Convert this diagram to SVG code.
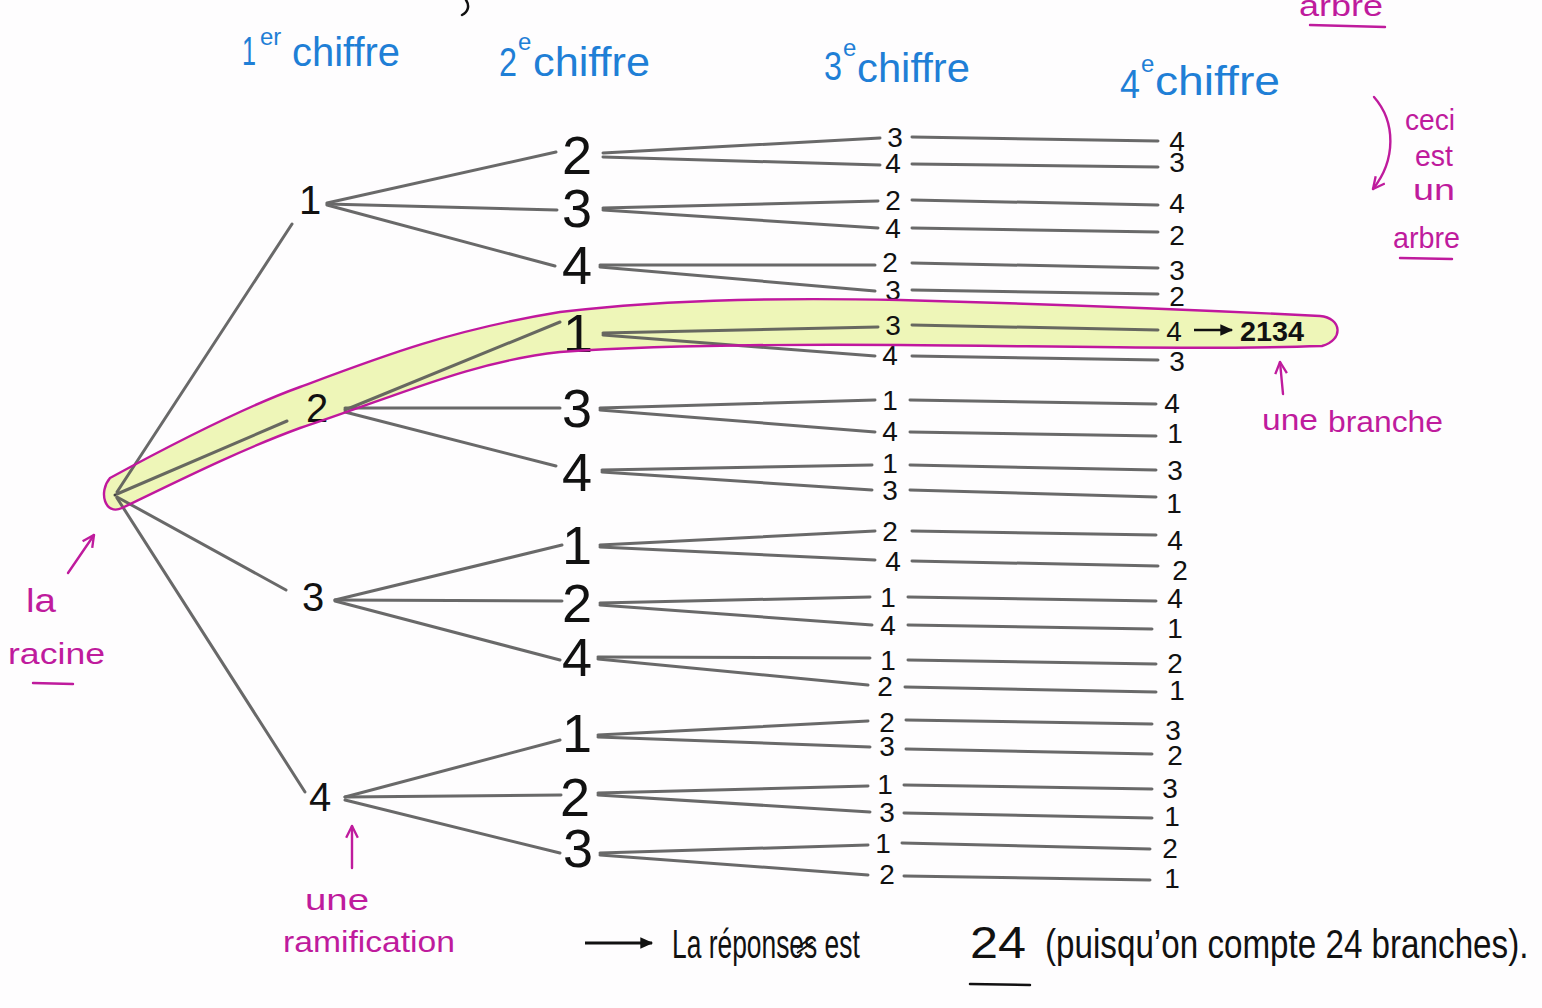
<svg xmlns="http://www.w3.org/2000/svg" width="1542" height="1008" viewBox="0 0 1542 1008">
  <defs>
    <style>
      .pen { fill: none; stroke: #555; stroke-width: 3; stroke-linecap: round; opacity: 0.88; }
      .dig { font-family: "Liberation Sans", Arial, sans-serif; fill: #111; text-anchor: middle; }
      .d1 { font-size: 40px; }
      .d2 { font-size: 54px; }
      .d3 { font-size: 28px; }
      .head { font-family: "Liberation Sans", Arial, sans-serif; fill: #1f7fd6; font-size: 40px; }
      .sup { font-size: 24px; }
      .note { font-family: "Liberation Sans", Arial, sans-serif; fill: #bf1b9d; font-size: 30px; }
      .mag { fill: none; stroke: #bf1b9d; stroke-width: 2.4; stroke-linecap: round; stroke-linejoin: round; }
      .ink { font-family: "Liberation Sans", Arial, sans-serif; fill: #111; font-size: 40px; }
      .res { font-family: "Liberation Sans", Arial, sans-serif; fill: #111; font-size: 28px; font-weight: bold; }
    </style>
    <path id="branchShape" d="M110,478 C180,440 250,405 300,387 C380,357 450,330 560,312 C680,298 800,298 900,300 C1050,304 1200,310 1320,316 C1342,318 1344,340 1322,346 C1200,350 1050,346 900,345 C780,344 650,346 560,352 C470,362 400,395 300,428 C240,450 180,480 122,508 C105,516 98,492 110,478 Z"/>
    <marker id="openHead" viewBox="0 0 12 12" refX="11" refY="6" markerWidth="14" markerHeight="14" markerUnits="userSpaceOnUse" orient="auto">
      <path d="M1,1 L11,6 L1,11" fill="none" stroke="#bf1b9d" stroke-width="2"/>
    </marker>
    <marker id="inkHead" viewBox="0 0 12 12" refX="10" refY="6" markerWidth="14" markerHeight="14" markerUnits="userSpaceOnUse" orient="auto">
      <path d="M0,1 L11,6 L0,11 Z" fill="#111"/>
    </marker>
  </defs>

  <rect width="1542" height="1008" fill="#fefdfe"/>

  <!-- highlighted branch 2-1-3-4 (fill under the pencil lines) -->
  <use id="branchBand" href="#branchShape" fill="#eaf4a6" opacity="0.8"/>

  <!-- column headers -->
  <g id="headers">
    <text class="head" x="242" y="65" textLength="14" lengthAdjust="spacingAndGlyphs">1</text><text class="head sup" x="260" y="45">er</text><text class="head" x="292" y="66" textLength="108" lengthAdjust="spacingAndGlyphs">chiffre</text>
    <text class="head" x="499" y="76" textLength="18" lengthAdjust="spacingAndGlyphs">2</text><text class="head sup" x="518" y="50">e</text><text class="head" x="533" y="76" textLength="117" lengthAdjust="spacingAndGlyphs">chiffre</text>
    <text class="head" x="824" y="80" textLength="18" lengthAdjust="spacingAndGlyphs">3</text><text class="head sup" x="843" y="56">e</text><text class="head" x="857" y="82" textLength="113" lengthAdjust="spacingAndGlyphs">chiffre</text>
    <text class="head" x="1120" y="98" textLength="20" lengthAdjust="spacingAndGlyphs">4</text><text class="head sup" x="1141" y="72">e</text><text class="head" x="1155" y="95" textLength="125" lengthAdjust="spacingAndGlyphs">chiffre</text>
  </g>

  <!-- pencil connectors -->
  <g id="connectors" class="pen">
    <!-- root to first digit -->
    <path d="M117,492 L292,224"/>
    <path d="M117,494 L287,421"/>
    <path d="M117,497 L286,590"/>
    <path d="M117,498 L305,792"/>
    <!-- first to second digit -->
    <path d="M327,203 L556,152"/>
    <path d="M327,204 L557,210"/>
    <path d="M327,205 L555,266"/>
    <path d="M345,410 L560,322"/>
    <path d="M345,408 L560,408"/>
    <path d="M345,412 L556,466"/>
    <path d="M335,600 L562,545"/>
    <path d="M335,600 L562,601"/>
    <path d="M335,601 L560,660"/>
    <path d="M345,797 L560,740"/>
    <path d="M345,797 L561,795"/>
    <path d="M345,800 L560,853"/>
    <!-- second to third digit -->
    <path d="M603,153 L880,138"/><path d="M603,157 L880,165"/>
    <path d="M603,208 L878,201"/><path d="M603,210 L878,228"/>
    <path d="M600,265 L875,265"/><path d="M600,267 L875,291"/>
    <path d="M603,333 L878,327"/><path d="M603,335 L875,356"/>
    <path d="M600,408 L875,400"/><path d="M600,410 L875,432"/>
    <path d="M602,470 L872,465"/><path d="M602,472 L872,490"/>
    <path d="M600,545 L875,531"/><path d="M600,547 L875,560"/>
    <path d="M600,603 L870,597"/><path d="M600,605 L872,625"/>
    <path d="M598,657 L870,658"/><path d="M598,659 L868,685"/>
    <path d="M598,735 L868,721"/><path d="M598,737 L870,747"/>
    <path d="M598,793 L868,786"/><path d="M598,795 L870,812"/>
    <path d="M600,853 L868,845"/><path d="M600,855 L868,875"/>
    <!-- third to fourth digit -->
    <path d="M912,137 L1158,141"/><path d="M912,164 L1158,167"/>
    <path d="M912,200 L1158,205"/><path d="M912,228 L1158,232"/>
    <path d="M912,263 L1158,268"/><path d="M912,290 L1158,294"/>
    <path d="M912,325 L1158,330"/><path d="M912,356 L1158,360"/>
    <path d="M910,400 L1156,404"/><path d="M910,432 L1156,436"/>
    <path d="M910,465 L1156,470"/><path d="M910,490 L1156,497"/>
    <path d="M912,531 L1156,535"/><path d="M912,561 L1158,566"/>
    <path d="M908,597 L1156,601"/><path d="M908,625 L1152,629"/>
    <path d="M908,660 L1156,664"/><path d="M905,687 L1156,692"/>
    <path d="M906,720 L1152,724"/><path d="M906,749 L1152,754"/>
    <path d="M904,785 L1152,789"/><path d="M904,813 L1152,818"/>
    <path d="M902,843 L1150,849"/><path d="M904,876 L1150,880"/>
  </g>

  <!-- tree nodes -->
  <g id="root"><circle cx="115" cy="495" r="1.5" fill="#444"/></g>

  <g id="n1" class="dig d1"><text x="310" y="214">1</text></g>
  <g id="n2" class="dig d1"><text x="317" y="422">2</text></g>
  <g id="n3" class="dig d1"><text x="313" y="611">3</text></g>
  <g id="n4" class="dig d1"><text x="320" y="811">4</text></g>

  <g id="n12" class="dig d2"><text x="577" y="174">2</text></g>
  <g id="n13" class="dig d2"><text x="577" y="227">3</text></g>
  <g id="n14" class="dig d2"><text x="577" y="284">4</text></g>
  <g id="n21" class="dig d2"><text x="578" y="352">1</text></g>
  <g id="n23" class="dig d2"><text x="577" y="427">3</text></g>
  <g id="n24" class="dig d2"><text x="577" y="491">4</text></g>
  <g id="n31" class="dig d2"><text x="577" y="564">1</text></g>
  <g id="n32" class="dig d2"><text x="577" y="622">2</text></g>
  <g id="n34" class="dig d2"><text x="577" y="676">4</text></g>
  <g id="n41" class="dig d2"><text x="577" y="752">1</text></g>
  <g id="n42" class="dig d2"><text x="575" y="816">2</text></g>
  <g id="n43" class="dig d2"><text x="578" y="867">3</text></g>

  <g id="n123" class="dig d3"><text x="895" y="147">3</text></g>
  <g id="n124" class="dig d3"><text x="893" y="173">4</text></g>
  <g id="n132" class="dig d3"><text x="893" y="210">2</text></g>
  <g id="n134" class="dig d3"><text x="893" y="238">4</text></g>
  <g id="n142" class="dig d3"><text x="890" y="272">2</text></g>
  <g id="n143" class="dig d3"><text x="893" y="300">3</text></g>
  <g id="n213" class="dig d3"><text x="893" y="335">3</text></g>
  <g id="n214" class="dig d3"><text x="890" y="365">4</text></g>
  <g id="n231" class="dig d3"><text x="890" y="410">1</text></g>
  <g id="n234" class="dig d3"><text x="890" y="441">4</text></g>
  <g id="n241" class="dig d3"><text x="890" y="473">1</text></g>
  <g id="n243" class="dig d3"><text x="890" y="500">3</text></g>
  <g id="n312" class="dig d3"><text x="890" y="541">2</text></g>
  <g id="n314" class="dig d3"><text x="893" y="571">4</text></g>
  <g id="n321" class="dig d3"><text x="888" y="607">1</text></g>
  <g id="n324" class="dig d3"><text x="888" y="635">4</text></g>
  <g id="n341" class="dig d3"><text x="888" y="670">1</text></g>
  <g id="n342" class="dig d3"><text x="885" y="696">2</text></g>
  <g id="n412" class="dig d3"><text x="887" y="732">2</text></g>
  <g id="n413" class="dig d3"><text x="887" y="756">3</text></g>
  <g id="n421" class="dig d3"><text x="885" y="794">1</text></g>
  <g id="n423" class="dig d3"><text x="887" y="822">3</text></g>
  <g id="n431" class="dig d3"><text x="883" y="853">1</text></g>
  <g id="n432" class="dig d3"><text x="887" y="884">2</text></g>

  <g id="n1234" class="dig d3"><text x="1177" y="151">4</text></g>
  <g id="n1243" class="dig d3"><text x="1177" y="172">3</text></g>
  <g id="n1324" class="dig d3"><text x="1177" y="213">4</text></g>
  <g id="n1342" class="dig d3"><text x="1177" y="245">2</text></g>
  <g id="n1423" class="dig d3"><text x="1177" y="280">3</text></g>
  <g id="n1432" class="dig d3"><text x="1177" y="306">2</text></g>
  <g id="n2134" class="dig d3"><text x="1174" y="341">4</text></g>
  <g id="n2143" class="dig d3"><text x="1177" y="371">3</text></g>
  <g id="n2314" class="dig d3"><text x="1172" y="413">4</text></g>
  <g id="n2341" class="dig d3"><text x="1175" y="443">1</text></g>
  <g id="n2413" class="dig d3"><text x="1175" y="480">3</text></g>
  <g id="n2431" class="dig d3"><text x="1174" y="513">1</text></g>
  <g id="n3124" class="dig d3"><text x="1175" y="550">4</text></g>
  <g id="n3142" class="dig d3"><text x="1180" y="580">2</text></g>
  <g id="n3214" class="dig d3"><text x="1175" y="608">4</text></g>
  <g id="n3241" class="dig d3"><text x="1175" y="638">1</text></g>
  <g id="n3412" class="dig d3"><text x="1175" y="673">2</text></g>
  <g id="n3421" class="dig d3"><text x="1177" y="700">1</text></g>
  <g id="n4123" class="dig d3"><text x="1173" y="740">3</text></g>
  <g id="n4132" class="dig d3"><text x="1175" y="765">2</text></g>
  <g id="n4213" class="dig d3"><text x="1170" y="798">3</text></g>
  <g id="n4231" class="dig d3"><text x="1172" y="826">1</text></g>
  <g id="n4312" class="dig d3"><text x="1170" y="858">2</text></g>
  <g id="n4321" class="dig d3"><text x="1172" y="888">1</text></g>

  <!-- outline of the highlighted branch -->
  <use id="branchOutline" href="#branchShape" fill="none" stroke="#c0189e" stroke-width="2.4"/>

  <!-- result of the highlighted branch -->
  <g id="result">
    <path d="M1194,330 L1232,330" stroke="#111" stroke-width="2.5" marker-end="url(#inkHead)"/>
    <text class="res" x="1240" y="341" textLength="64" lengthAdjust="spacingAndGlyphs">2134</text>
  </g>

  <!-- annotations -->
  <g id="note-arbre">
    <path class="mag" d="M1374,97 C1396,122 1396,160 1373,189" marker-end="url(#openHead)"/>
    <text class="note" x="1405" y="130" textLength="50" lengthAdjust="spacingAndGlyphs">ceci</text>
    <text class="note" x="1415" y="166" textLength="38" lengthAdjust="spacingAndGlyphs">est</text>
    <text class="note" x="1413" y="200" textLength="42" lengthAdjust="spacingAndGlyphs">un</text>
    <text class="note" x="1393" y="248" textLength="67" lengthAdjust="spacingAndGlyphs">arbre</text>
    <path class="mag" d="M1400,258 L1452,259"/>
  </g>
  <g id="note-top">
    <text class="note" x="1299" y="16" textLength="84" lengthAdjust="spacingAndGlyphs">arbre</text>
    <path class="mag" d="M1310,25 L1385,27"/>
    <path d="M466,0 C470,6 468,12 462,15" fill="none" stroke="#111" stroke-width="2.5" stroke-linecap="round"/>
  </g>
  <g id="note-branche">
    <path class="mag" d="M1283,394 L1280,362" marker-end="url(#openHead)"/>
    <text class="note" x="1262" y="430" textLength="56" lengthAdjust="spacingAndGlyphs">une</text>
    <text class="note" x="1328" y="432" textLength="115" lengthAdjust="spacingAndGlyphs">branche</text>
  </g>
  <g id="note-racine">
    <path class="mag" d="M68,573 L94,535" marker-end="url(#openHead)"/>
    <text class="note" x="26" y="612" style="font-size:34px" textLength="30" lengthAdjust="spacingAndGlyphs">la</text>
    <text class="note" x="8" y="664" textLength="97" lengthAdjust="spacingAndGlyphs">racine</text>
    <path class="mag" d="M33,683 L73,684"/>
  </g>
  <g id="note-ramification">
    <path class="mag" d="M352,868 L352,826" marker-end="url(#openHead)"/>
    <text class="note" x="305" y="910" textLength="64" lengthAdjust="spacingAndGlyphs">une</text>
    <text class="note" x="283" y="952" textLength="172" lengthAdjust="spacingAndGlyphs">ramification</text>
  </g>

  <!-- conclusion (narrow handwriting: texts are condensed horizontally) -->
  <g id="conclusion">
    <path d="M585,943 L652,943" stroke="#111" stroke-width="3" marker-end="url(#inkHead)"/>
    <text class="ink" transform="translate(672,958) scale(0.66,1)">La réponses est</text>
    <path d="M797,948 L812,937 M797,953 L813,942" stroke="#111" stroke-width="2"/>
    <text class="ink" x="970" y="958" style="font-size:44px" textLength="56" lengthAdjust="spacingAndGlyphs">24</text>
    <path d="M970,984 L1030,985" stroke="#111" stroke-width="2.5" stroke-linecap="round"/>
    <text class="ink" transform="translate(1045,958) scale(0.83,1)">(puisqu’on compte 24 branches).</text>
  </g>
</svg>
